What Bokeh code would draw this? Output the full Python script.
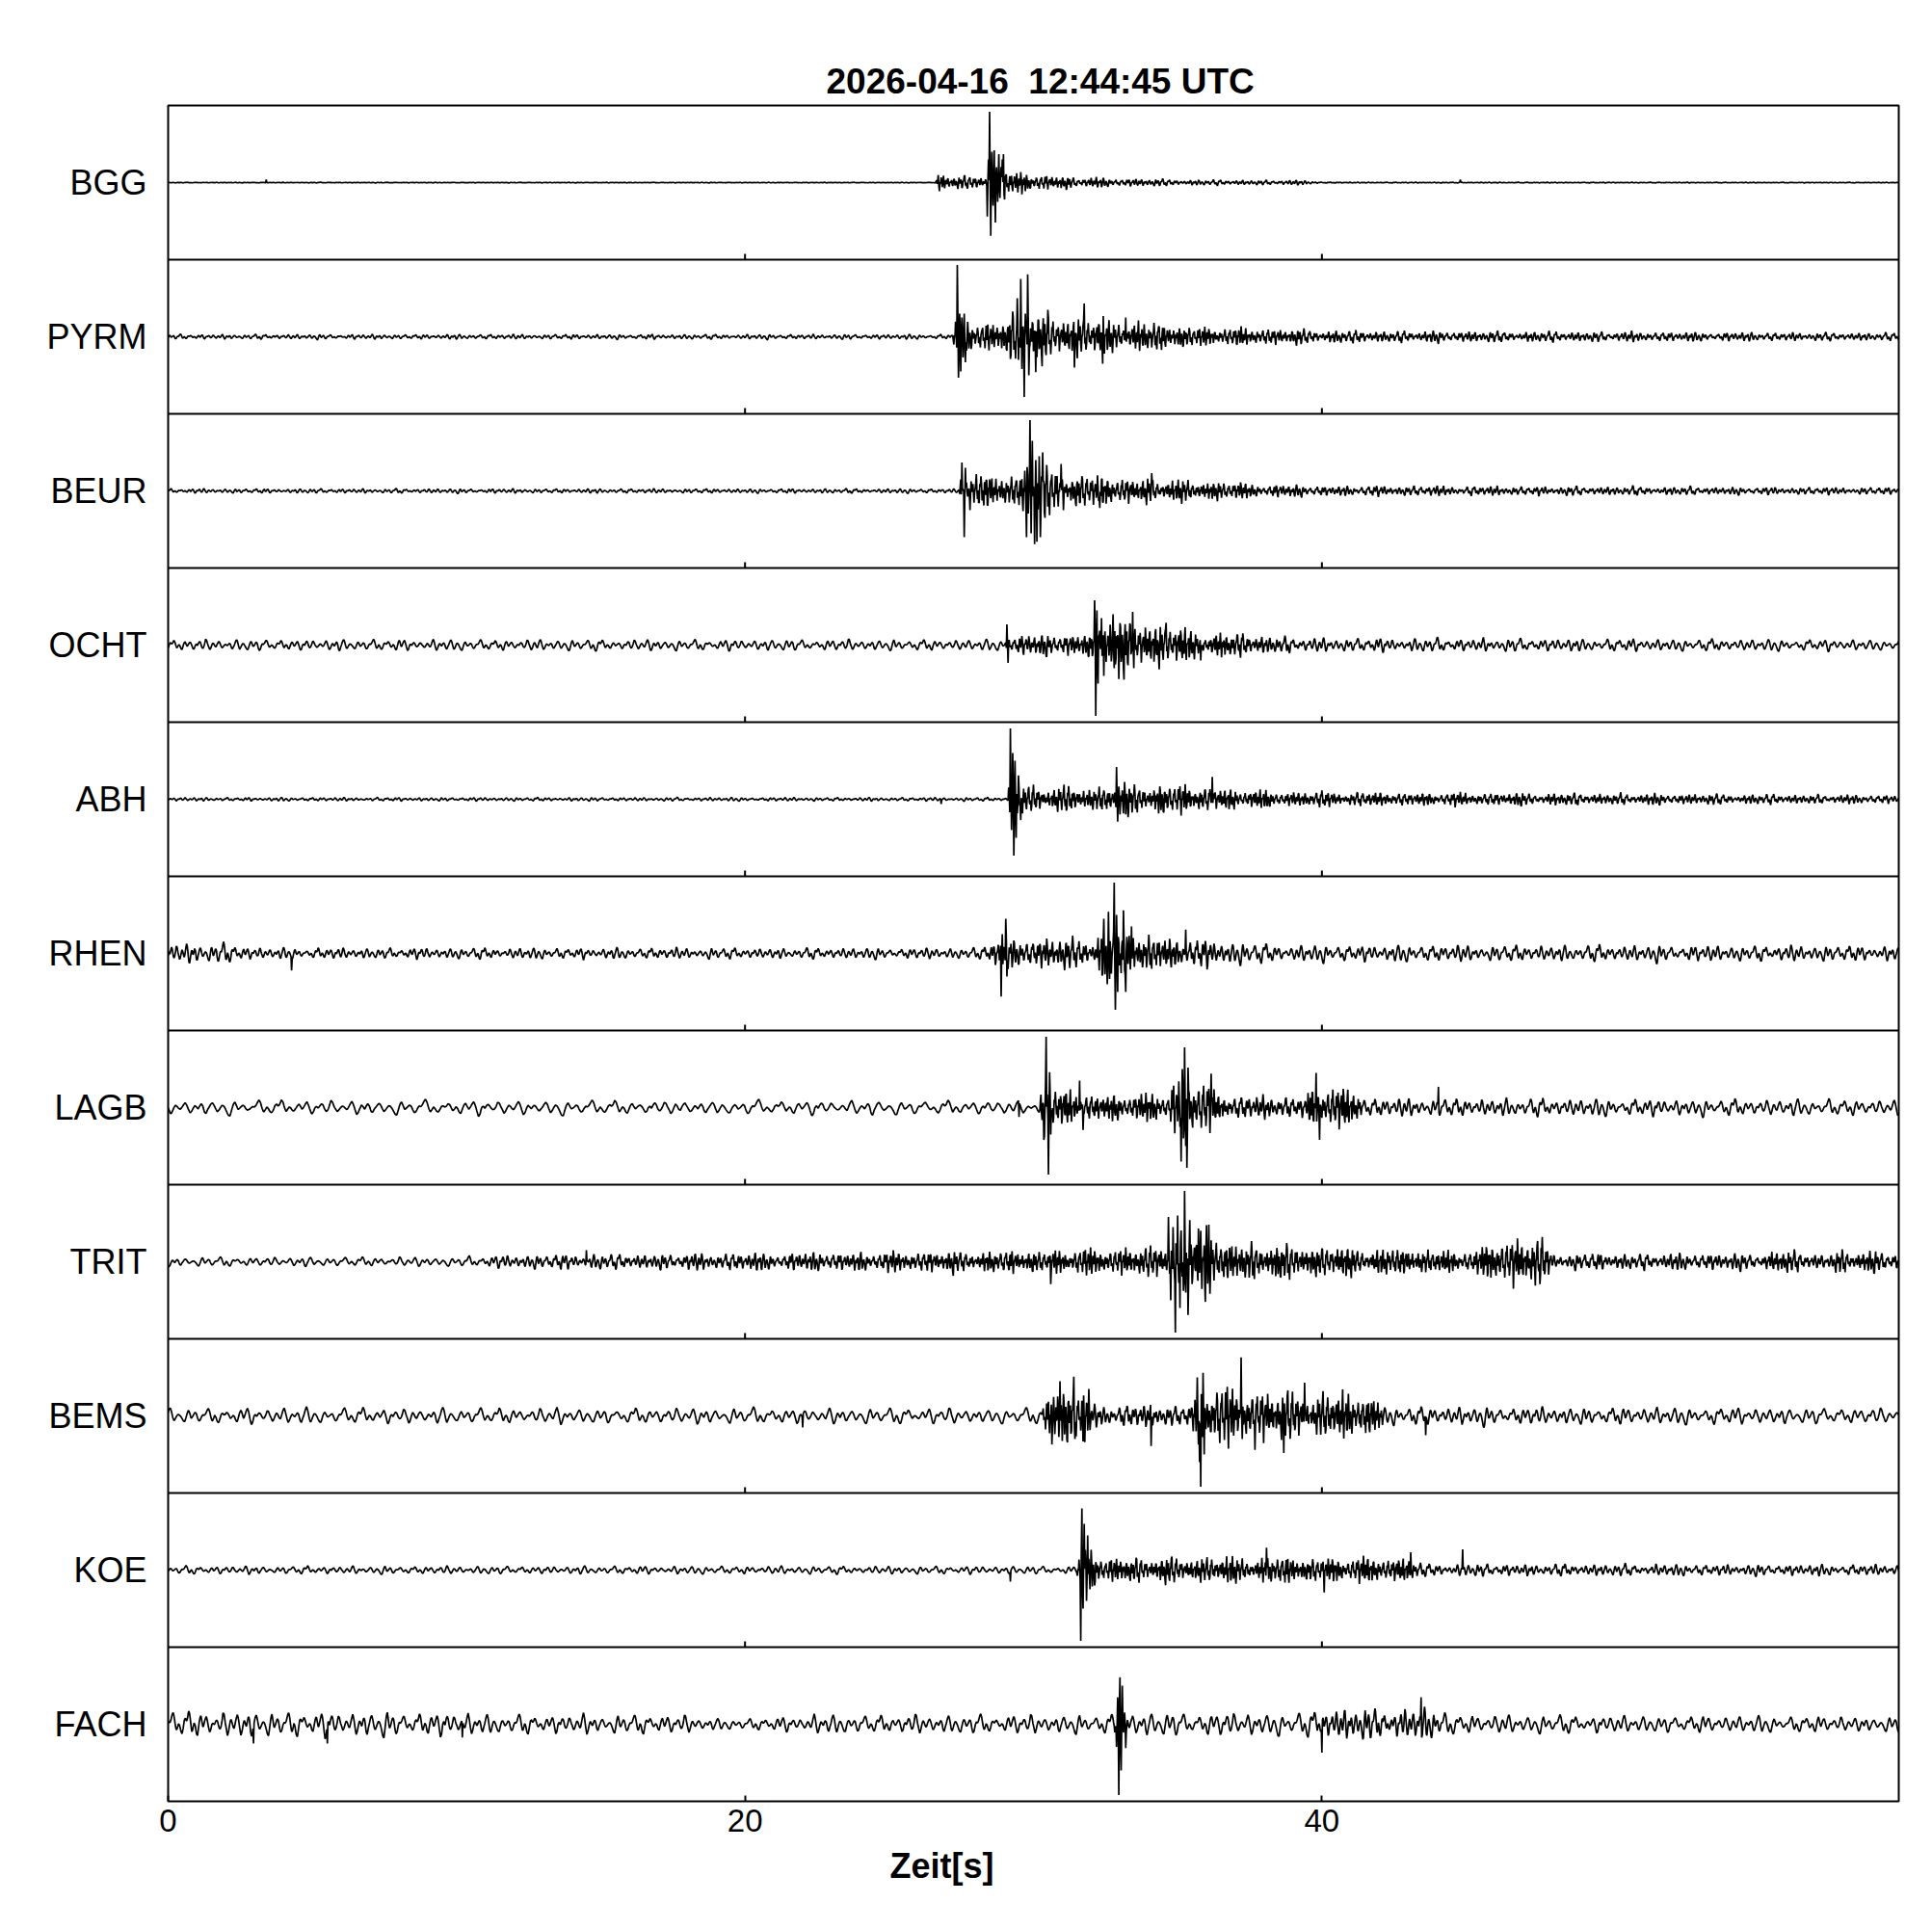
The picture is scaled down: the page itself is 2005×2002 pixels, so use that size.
import numpy as np
from bokeh.plotting import figure
from bokeh.models import Range1d, FixedTicker, Title, Span, ColumnDataSource
from bokeh.embed import file_html
from bokeh.resources import INLINE

# ---------------- data ----------------
TITLE = "2026-04-16\u00a0\u00a012:44:45 UTC"
XLABEL = "Zeit[s]"
STATIONS = ["BGG", "PYRM", "BEUR", "OCHT", "ABH", "RHEN", "LAGB", "TRIT", "BEMS", "KOE", "FACH"]
X_TICKS = [0, 20, 40]
T_MAX = 60.0

# envelope breakpoints (time s, amplitude as fraction of half a panel)
BGG_T = [0, 26.6, 26.7, 27.0, 28.3, 28.9, 29.4, 30.5, 32.5, 36.0, 39.5, 40.0, 60]
BGG_A = [0.004, 0.004, 0.13, 0.09, 0.09, 0.2, 0.14, 0.1, 0.06, 0.035, 0.03, 0.006, 0.004]
BGG_PEAKS = [(3.4, 0.04), (28.40, -0.44), (28.44, 0.3), (28.48, 0.92), (28.52, -0.69), (28.56, 0.4),
             (28.60, -0.3), (28.64, 0.42), (28.68, -0.52), (28.72, 0.2), (28.76, -0.25), (28.80, 0.37),
             (28.84, -0.2), (28.92, 0.3), (28.96, 0.37), (29.00, -0.22), (44.8, 0.04)]

PYRM_T = [0, 27.2, 27.3, 27.6, 29.1, 29.2, 29.8, 32.9, 36.0, 41.0, 60]
PYRM_A = [0.03, 0.03, 0.35, 0.22, 0.2, 0.38, 0.32, 0.22, 0.13, 0.08, 0.05]
PYRM_PEAKS = [(27.36, 0.93), (27.40, -0.53), (27.44, 0.3), (27.48, -0.45), (27.52, 0.25), (27.60, 0.3),
              (27.64, -0.33), (29.44, 0.5), (29.48, -0.3), (29.56, 0.75), (29.60, -0.42), (29.68, -0.78),
              (29.72, 0.3), (29.80, 0.81), (29.84, -0.5), (30.08, -0.46), (30.50, 0.35), (31.42, -0.4),
              (31.76, 0.43), (32.40, -0.35), (33.20, 0.25)]

BEUR_T = [0, 27.4, 27.5, 27.7, 29.6, 29.7, 30.5, 31.7, 34.5, 39.6, 60]
BEUR_A = [0.028, 0.028, 0.3, 0.22, 0.22, 0.45, 0.3, 0.22, 0.15, 0.07, 0.045]
BEUR_PEAKS = [(27.52, 0.37), (27.60, -0.6), (27.64, 0.3), (27.80, -0.25), (29.76, -0.6), (29.80, 0.2),
              (29.88, 0.92), (29.92, -0.55), (29.96, 0.65), (30.04, -0.69), (30.08, 0.4), (30.12, -0.66),
              (30.20, 0.45), (30.24, -0.6), (30.32, 0.5), (30.40, -0.35), (30.96, 0.35), (31.04, -0.25),
              (32.30, -0.22), (34.10, 0.23)]

OCHT_T = [0, 29.0, 29.1, 29.3, 31.8, 32.1, 32.2, 33.5, 35.9, 39.6, 60]
OCHT_A = [0.07, 0.07, 0.2, 0.13, 0.15, 0.2, 0.4, 0.35, 0.18, 0.09, 0.07]
OCHT_PEAKS = [(29.08, 0.27), (29.12, -0.23), (32.12, 0.58), (32.16, -0.92), (32.20, 0.45), (32.24, -0.5),
              (32.36, 0.35), (32.44, -0.4), (32.76, 0.4), (32.80, -0.3), (32.96, -0.44), (33.44, 0.43),
              (33.48, -0.3), (34.60, 0.29), (35.80, -0.2)]

ABH_T = [0, 29.1, 29.2, 29.4, 29.9, 32.8, 33.0, 35.5, 38.7, 60]
ABH_A = [0.022, 0.022, 0.4, 0.3, 0.17, 0.16, 0.22, 0.18, 0.1, 0.055]
ABH_PEAKS = [(26.8, -0.06), (29.20, 0.92), (29.24, -0.4), (29.28, 0.6), (29.32, -0.73), (29.36, 0.5),
             (29.40, -0.5), (29.48, 0.31), (29.56, -0.27), (32.88, 0.42), (32.92, -0.29), (36.20, 0.29)]

RHEN_T = [0, 2.5, 3.0, 28.1, 28.3, 28.8, 32.2, 32.4, 33.0, 35.0, 38.6, 60]
RHEN_A = [0.14, 0.12, 0.07, 0.07, 0.15, 0.2, 0.2, 0.45, 0.3, 0.2, 0.11, 0.1]
RHEN_PEAKS = [(4.28, -0.22), (28.88, -0.56), (28.92, 0.25), (29.04, 0.45), (29.08, -0.3), (32.60, 0.54),
              (32.64, -0.33), (32.80, 0.92), (32.84, -0.73), (32.88, 0.5), (32.92, -0.5), (33.12, 0.56),
              (33.20, -0.5), (33.40, 0.35), (35.28, 0.31)]

LAGB_T = [0, 30.2, 30.3, 30.6, 31.7, 34.7, 34.8, 35.5, 37.1, 39.5, 39.6, 41.2, 41.5, 60]
LAGB_A = [0.09, 0.09, 0.35, 0.3, 0.18, 0.18, 0.4, 0.35, 0.15, 0.15, 0.3, 0.25, 0.12, 0.1]
LAGB_PEAKS = [(29.5, -0.12), (30.36, -0.42), (30.44, 0.92), (30.52, -0.87), (30.56, 0.46), (30.60, -0.35),
              (31.60, 0.35), (31.72, -0.29), (35.12, -0.7), (35.16, 0.5), (35.20, -0.4), (35.24, 0.78),
              (35.28, -0.5), (35.32, -0.78), (35.36, 0.52), (36.16, 0.44), (39.80, 0.45), (39.92, -0.42),
              (44.04, 0.27)]

TRIT_T = [0, 10, 12, 25, 30, 34.6, 34.7, 36.2, 37, 40.5, 45.5, 45.8, 47.6, 48.0, 55, 56, 57.5, 58, 60]
TRIT_A = [0.06, 0.06, 0.09, 0.13, 0.15, 0.2, 0.45, 0.4, 0.25, 0.2, 0.14, 0.3, 0.3, 0.11, 0.11, 0.15, 0.1, 0.16, 0.12]
TRIT_PEAKS = [(14.5, 0.15), (30.6, -0.29), (34.68, 0.58), (34.76, -0.5), (34.84, 0.45), (34.92, -0.92),
              (35.00, 0.6), (35.08, -0.6), (35.24, 0.92), (35.28, -0.4), (35.36, -0.69), (35.42, 0.54),
              (35.72, 0.43), (35.96, -0.52), (36.08, 0.48), (46.64, -0.35), (47.40, -0.31), (47.48, 0.27)]

BEMS_T = [0, 30.3, 30.4, 31.9, 32.0, 35.5, 35.7, 36.4, 38.0, 41.9, 42.2, 60]
BEMS_A = [0.1, 0.1, 0.38, 0.38, 0.15, 0.15, 0.45, 0.38, 0.32, 0.28, 0.12, 0.1]
BEMS_PEAKS = [(22.0, -0.15), (30.64, -0.37), (30.92, 0.45), (31.40, 0.51), (31.44, -0.3), (31.72, -0.33),
              (34.08, -0.39), (35.68, 0.5), (35.76, -0.6), (35.80, -0.92), (35.88, 0.56), (35.92, -0.5),
              (37.20, 0.76), (37.24, -0.3), (37.68, -0.44), (38.68, -0.48), (39.40, 0.43), (43.60, -0.25)]

KOE_T = [0, 31.5, 31.6, 32.2, 33.0, 43.0, 43.5, 60]
KOE_A = [0.05, 0.05, 0.35, 0.2, 0.17, 0.17, 0.08, 0.07]
KOE_PEAKS = [(29.2, -0.15), (31.64, -0.92), (31.68, 0.8), (31.72, -0.5), (31.76, 0.6), (31.84, -0.4),
             (31.88, 0.45), (38.08, 0.29), (40.08, -0.29), (43.08, 0.23), (44.88, 0.27)]

FACH_T = [0, 10, 12, 18, 19, 21, 22, 32.8, 32.9, 33.4, 39.5, 40, 44, 45, 60]
FACH_A = [0.17, 0.15, 0.12, 0.12, 0.07, 0.08, 0.12, 0.12, 0.4, 0.15, 0.15, 0.2, 0.2, 0.12, 0.1]
FACH_PEAKS = [(2.96, -0.25), (5.52, -0.25), (10.2, -0.17), (32.92, 0.35), (32.96, -0.92), (33.00, 0.61),
              (33.04, -0.6), (33.08, 0.5), (33.20, -0.31), (40.00, -0.37), (43.44, 0.35)]

ENV_T = [BGG_T, PYRM_T, BEUR_T, OCHT_T, ABH_T, RHEN_T, LAGB_T, TRIT_T, BEMS_T, KOE_T, FACH_T]
ENV_A = [BGG_A, PYRM_A, BEUR_A, OCHT_A, ABH_A, RHEN_A, LAGB_A, TRIT_A, BEMS_A, KOE_A, FACH_A]
PEAKS = [BGG_PEAKS, PYRM_PEAKS, BEUR_PEAKS, OCHT_PEAKS, ABH_PEAKS, RHEN_PEAKS, LAGB_PEAKS,
         TRIT_PEAKS, BEMS_PEAKS, KOE_PEAKS, FACH_PEAKS]

# ---------------- drawing style ----------------
FONT = "Liberation Sans"
DT = 0.02
# fixed wiggle shape used to draw a trace inside its envelope
WIGGLE = [0.1, 0.6, 0.9, 0.5, -0.2, -0.7, -0.4, 0.0, 0.3, 0.2, -0.1, -0.5, -0.9, -1.0, -0.3, 0.4,
          0.8, 0.3, -0.3, -0.1, 0.2, 0.5, 0.3, -0.4, -0.8, -0.6, -0.1, 0.2, 0.1, 0.3, 0.7, 1.0,
          0.6, -0.1, -0.6, -0.3, 0.1, -0.2, -0.7, -0.9, -0.4, 0.3, 0.5, 0.2, 0.4, 0.9, 0.6, 0.0,
          -0.5, -0.2, 0.1, -0.1, -0.6, -0.8, -0.2, 0.4, 0.7, 0.2, -0.3, 0.1, 0.5, 0.8, 0.3, -0.4,
          -1.0, -0.7, 0.0, 0.2, -0.1, 0.3, 0.6, 0.4, -0.2, -0.5, -0.3, 0.2, 0.9, 0.7, 0.1, -0.3,
          -0.8, -0.5, 0.0, 0.4, 0.2, -0.2, -0.4, 0.1, 0.6, 0.95, 0.4, -0.3, -0.9, -0.6, -0.1, 0.3,
          0.1, -0.2, 0.2, 0.5, 0.2, -0.6, -0.85, -0.3]
# slow irregular loudness variation of the wiggle
MOD = [0.5, 1.0, 0.7, 0.3, 0.9, 0.6, 1.0, 0.4, 0.8, 0.55, 0.95, 0.35, 0.75, 1.0, 0.45, 0.65, 0.85]
MOD_RATE = 2.5
GAIN = 1.35
# carrier steps per second (background / inside the event)
BG_RATE = [45, 40, 40, 28, 40, 36, 18, 24, 22, 28, 26]
EV_RATE = 85
LINE_W = 1.7

n = len(STATIONS)
FRAME_L, FRAME_T, FRAME_W, FRAME_H = 174, 109, 1796, 1760
p = figure(width=FRAME_L + FRAME_W + 28, height=FRAME_T + FRAME_H + 123,
           output_backend="svg", toolbar_location=None,
           x_range=Range1d(0, T_MAX), y_range=Range1d(0, n),
           min_border_left=FRAME_L, min_border_right=28, min_border_top=FRAME_T, min_border_bottom=123)
p.background_fill_color = "white"
p.border_fill_color = "white"
p.xgrid.visible = False
p.ygrid.visible = False
p.outline_line_color = "black"
p.outline_line_width = 2
p.outline_line_alpha = 1.0

t = np.arange(0, T_MAX + DT / 2, DT)
wig = np.array(WIGGLE + [WIGGLE[0]])
wig_x = np.arange(len(wig))
mod = np.array(MOD + [MOD[0]])
mod_x = np.arange(len(mod))
for i, name in enumerate(STATIONS):
    env = np.interp(t, ENV_T[i], ENV_A[i])
    bg = ENV_A[i][0]
    rate = BG_RATE[i] + (EV_RATE - BG_RATE[i]) * np.clip((env - bg) / 0.1, 0, 1)
    phase = (np.cumsum(rate * DT) + 13 * i) % len(WIGGLE)
    mphase = (t * MOD_RATE + 5 * i) % len(MOD)
    val = env * np.interp(phase, wig_x, wig) * np.interp(mphase, mod_x, mod) * GAIN
    val = np.clip(val, -0.95, 0.95)
    for tp, vp in PEAKS[i]:
        val[int(round(tp / DT))] = vp
    center = n - 0.5 - i
    src = ColumnDataSource(dict(x=t, y=center + 0.5 * val))
    p.line("x", "y", source=src, line_color="black", line_width=LINE_W)

# panel separators
for k in range(1, n):
    p.add_layout(Span(location=k, dimension="width", line_color="black", line_width=2))

# inner ticks at the bottom of each panel
tick_len = 6.0 / 160.0
xs0, ys0, xs1, ys1 = [], [], [], []
for k in range(1, n):
    for xt in X_TICKS[1:]:
        xs0.append(xt); ys0.append(k); xs1.append(xt); ys1.append(k + tick_len)
p.segment(xs0, ys0, xs1, ys1, line_color="black", line_width=2)

# x axis
xa = p.xaxis[0]
xa.ticker = FixedTicker(ticks=X_TICKS)
xa.major_tick_in = 6
xa.major_tick_out = 0
xa.major_tick_line_width = 2
xa.minor_tick_line_color = None
xa.axis_line_color = None
xa.major_label_text_font = FONT
xa.major_label_text_font_size = "33px"
xa.major_label_text_color = "black"
xa.major_label_standoff = 8

# y axis with station names
ya = p.yaxis[0]
ya.ticker = FixedTicker(ticks=[n - 0.5 - i for i in range(n)])
ya.major_label_overrides = {n - 0.5 - i: s for i, s in enumerate(STATIONS)}
ya.major_tick_in = 0
ya.major_tick_out = 0
ya.minor_tick_line_color = None
ya.axis_line_color = None
ya.major_label_text_font = FONT
ya.major_label_text_font_size = "36px"
ya.major_label_text_color = "black"
ya.major_label_standoff = 22

# titles (left-aligned with pixel offsets so they sit where the reference has them)
p.title.text = TITLE
p.title.align = "left"
p.title.offset = 683
p.title.text_font = FONT
p.title.text_font_size = "37px"
p.title.text_font_style = "bold"
p.title.text_color = "black"
p.title.standoff = 10

xl = Title(text=XLABEL, align="left", offset=749, text_font=FONT, text_font_size="36px",
           text_font_style="bold", text_color="black", standoff=20)
p.add_layout(xl, "below")

open("out.html", "w").write(file_html(p, INLINE))
